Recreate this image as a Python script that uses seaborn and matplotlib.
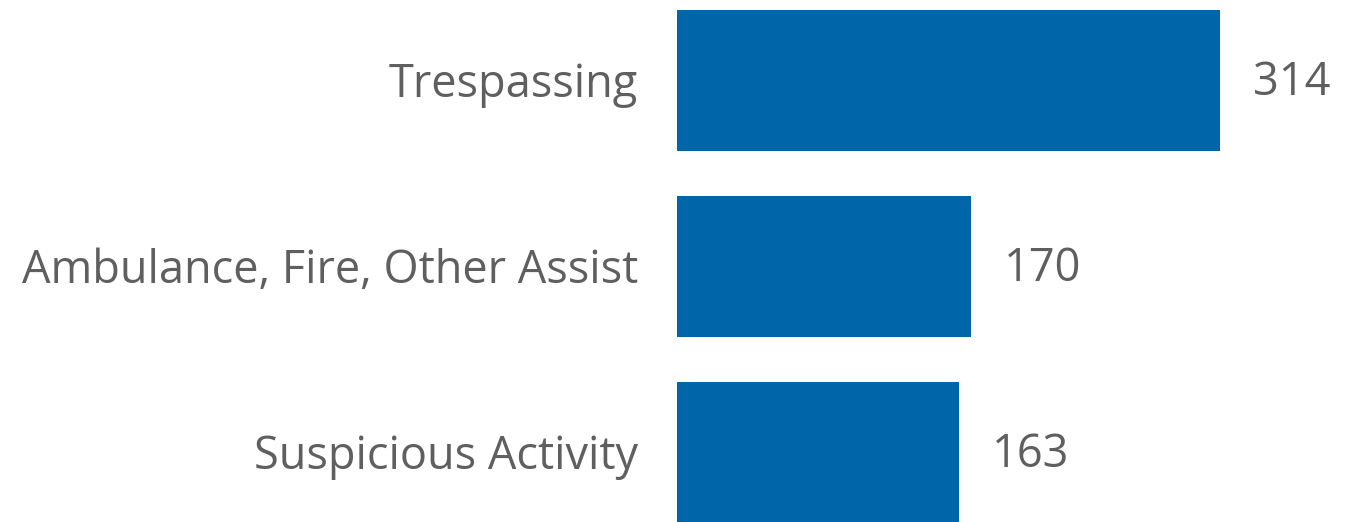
import matplotlib
matplotlib.use('Agg')
import matplotlib.pyplot as plt
import matplotlib.transforms as mtransforms
import seaborn as sns
import pandas as pd

categories = ['Trespassing', 'Ambulance, Fire, Other Assist', 'Suspicious Activity']
counts = [314, 170, 163]

df = pd.DataFrame({'category': categories, 'count': counts})

sns.set_theme(style='white')
plt.rcParams['font.family'] = ['Open Sans', 'DejaVu Sans']

text_color = '#5f5f5f'
bar_color = '#0066aa'

fig = plt.figure(figsize=(13.64, 5.22), dpi=100)
ax = fig.add_axes([677 / 1364, 0.0, 1 - 677 / 1364, 1.0])

sns.barplot(data=df, x='count', y='category', color=bar_color, width=0.758,
            saturation=1, linewidth=0, ax=ax)

ax.set_xlim(0, 397.3)
ax.set_ylim(2.376, -0.433)

for i, v in enumerate(counts):
    ax.text(v + 19, i + 0.015, str(v), va='center', ha='left', fontsize=32.5, color=text_color)

ax.set_xlabel('')
ax.set_ylabel('')
ax.set_xticks([])
ax.set_yticks(range(len(categories)))
ax.set_yticklabels(categories, va='center')
ax.tick_params(axis='y', length=0, pad=28, labelsize=32.5, labelcolor=text_color)

# nudge the category labels down a little
shift = mtransforms.ScaledTranslation(0, -5 / 100, fig.dpi_scale_trans)
for lbl in ax.get_yticklabels():
    lbl.set_transform(lbl.get_transform() + shift)

for s in ax.spines.values():
    s.set_visible(False)

fig.savefig('out.png', dpi=100)
